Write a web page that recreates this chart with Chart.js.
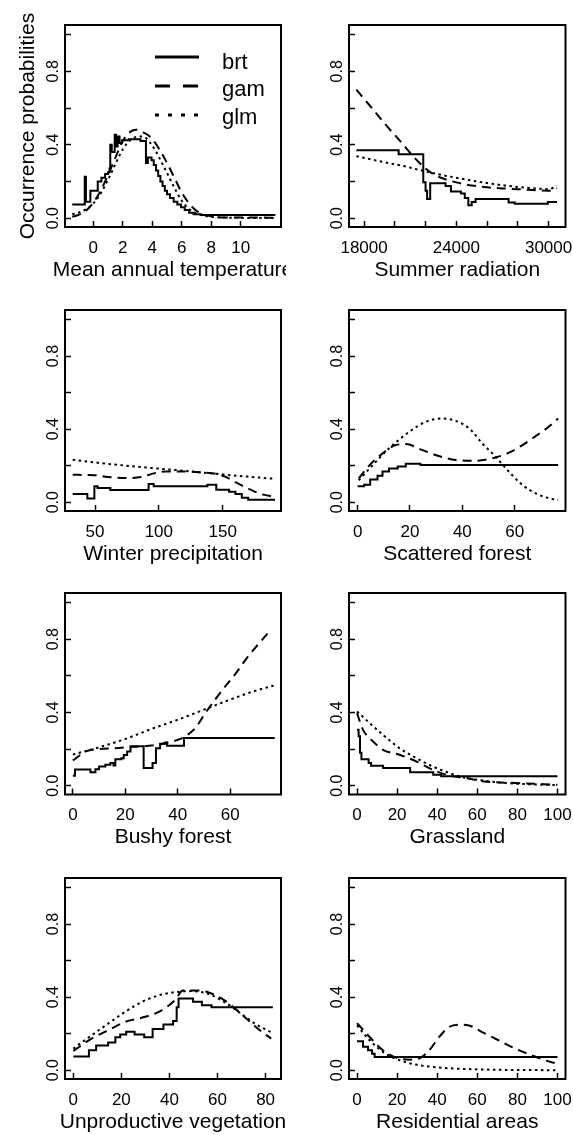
<!DOCTYPE html>
<html>
<head>
<meta charset="utf-8">
<title>Occurrence probability response curves</title>
<script src="https://cdn.jsdelivr.net/npm/chart.js@4.4.1/dist/chart.umd.min.js"></script>
<style>
  html, body { margin: 0; padding: 0; background: #fff; }
  #sheet { position: relative; width: 573px; height: 1135px; overflow: hidden; }
  #sheet canvas { position: absolute; }
</style>
</head>
<body>
<div id="sheet"></div>
<script>
// ---- response curves, read as [x, probability] ----
// brt rows are step points: each value holds until the next x.

// Mean annual temperature
const tempBrt = [[-1.43, 0.075], [-0.58, 0.225], [-0.5, 0.09], [-0.2, 0.15], [0.3, 0.2], [0.55, 0.22],
  [0.8, 0.24], [1.0, 0.25], [1.1, 0.27], [1.15, 0.40], [1.25, 0.36], [1.45, 0.455], [1.55, 0.39],
  [1.65, 0.445], [1.78, 0.41], [1.95, 0.425], [2.4, 0.43], [3.2, 0.42], [3.57, 0.30], [3.7, 0.33],
  [3.95, 0.315], [4.1, 0.29], [4.25, 0.26], [4.4, 0.23], [4.55, 0.20], [4.7, 0.175], [4.85, 0.15],
  [5.0, 0.13], [5.2, 0.11], [5.45, 0.09], [5.7, 0.075], [5.95, 0.06], [6.2, 0.045], [6.5, 0.03],
  [6.8, 0.022], [7.3, 0.018], [12.35, 0.018]];
const tempGam = [[-1.43, 0.008], [-1.0, 0.018], [-0.5, 0.04], [0, 0.085], [0.5, 0.15], [1.0, 0.235],
  [1.5, 0.33], [2.0, 0.42], [2.5, 0.47], [2.9, 0.482], [3.3, 0.47], [3.75, 0.45], [4.2, 0.41],
  [4.66, 0.35], [5.1, 0.285], [5.5, 0.22], [6.0, 0.14], [6.5, 0.08], [7.0, 0.04], [7.5, 0.02],
  [8.0, 0.01], [9.0, 0.004], [12.35, 0.003]];
const tempGlm = [[-1.43, 0.022], [-1.0, 0.03], [-0.5, 0.048], [0, 0.08], [0.5, 0.135], [1.0, 0.21],
  [1.5, 0.295], [2.0, 0.375], [2.5, 0.425], [3.1, 0.445], [3.5, 0.44], [3.86, 0.41], [4.2, 0.37],
  [4.66, 0.3], [5.1, 0.23], [5.57, 0.155], [6.0, 0.095], [6.5, 0.05], [7.0, 0.025], [8.0, 0.008],
  [9.0, 0.003], [12.35, 0.001]];

// Summer radiation
const radBrt = [[17500, 0.37], [20250, 0.348], [21850, 0.196], [22000, 0.15], [22100, 0.105],
  [22300, 0.19], [23300, 0.175], [23650, 0.145], [24300, 0.135], [24550, 0.11], [24780, 0.07],
  [25000, 0.088], [25250, 0.105], [27400, 0.085], [27800, 0.078], [29950, 0.088], [30550, 0.088]];
const radGam = [[17500, 0.70], [18500, 0.6], [19500, 0.5], [20500, 0.405], [21000, 0.355],
  [21500, 0.31], [22000, 0.27], [22500, 0.24], [23000, 0.22], [24000, 0.195], [25000, 0.178],
  [26000, 0.168], [27000, 0.162], [28000, 0.158], [29000, 0.153], [30000, 0.15], [30550, 0.162]];
const radGlm = [[17500, 0.338], [19000, 0.31], [20500, 0.285], [22000, 0.255], [23500, 0.228],
  [25000, 0.205], [26500, 0.185], [28000, 0.17], [29500, 0.16], [30000, 0.158], [30550, 0.175]];

// Winter precipitation
const precBrt = [[32.5, 0.045], [44, 0.02], [49.5, 0.088], [52, 0.078], [62, 0.067], [92, 0.1],
  [96, 0.087], [138, 0.095], [145, 0.068], [155, 0.058], [160, 0.045], [165, 0.025], [170, 0.013],
  [191, 0.013]];
const precGam = [[32.5, 0.15], [50, 0.148], [60, 0.138], [75, 0.132], [88, 0.14], [96, 0.158],
  [105, 0.168], [120, 0.168], [135, 0.162], [145, 0.155], [152, 0.14], [160, 0.11], [170, 0.075],
  [180, 0.045], [191, 0.03]];
const precGlm = [[32.5, 0.232], [60, 0.21], [90, 0.19], [120, 0.172], [150, 0.152], [170, 0.14],
  [191, 0.128]];

// Scattered forest
const scatBrt = [[0, 0.088], [2.5, 0.095], [4.8, 0.125], [7.6, 0.145], [9.5, 0.168], [12, 0.185],
  [15.3, 0.195], [18.4, 0.21], [24, 0.204], [76.6, 0.204]];
const scatGam = [[0.4, 0.13], [4.4, 0.2], [9.5, 0.267], [14.6, 0.313], [18.4, 0.318], [24.8, 0.285],
  [31, 0.253], [37.5, 0.231], [45, 0.227], [52.7, 0.245], [57.8, 0.271], [63, 0.313], [68, 0.362],
  [73, 0.413], [76.6, 0.458]];
const scatGlm = [[0.4, 0.12], [7, 0.222], [12, 0.295], [19.7, 0.385], [26, 0.44], [32.4, 0.458],
  [37.5, 0.445], [42.6, 0.404], [47.6, 0.322], [52.7, 0.249], [57.8, 0.167], [62.9, 0.095],
  [68, 0.049], [73, 0.022], [76.6, 0.013]];

// Bushy forest
const bushBrt = [[0, 0.055], [0.8, 0.088], [6.7, 0.073], [8.6, 0.09], [10, 0.105], [12.4, 0.115],
  [14.3, 0.124], [15.5, 0.11], [16.2, 0.145], [18.5, 0.15], [19.4, 0.168], [20.7, 0.187], [22, 0.215],
  [27, 0.096], [30.4, 0.124], [31.7, 0.205], [33.3, 0.229], [35.2, 0.236], [35.9, 0.218],
  [42.4, 0.26], [77, 0.26]];
const bushGam = [[0, 0.138], [5, 0.187], [10, 0.2], [16, 0.205], [23, 0.213], [29, 0.218], [35, 0.232],
  [40, 0.25], [44, 0.28], [47, 0.32], [50, 0.385], [54, 0.465], [58, 0.54], [62, 0.61], [66, 0.69],
  [70, 0.76], [75.5, 0.85]];
const bushGlm = [[0, 0.17], [10, 0.21], [20, 0.255], [30, 0.31], [40, 0.36], [50, 0.415], [60, 0.47],
  [70, 0.52], [77, 0.548]];

// Grassland
const grassBrt = [[0, 0.305], [0.8, 0.27], [1.5, 0.18], [2.2, 0.145], [5.8, 0.124], [7, 0.109],
  [13, 0.096], [26.5, 0.073], [38, 0.06], [42, 0.052], [100, 0.052]];
const grassGam = [[0, 0.396], [3, 0.305], [8, 0.242], [12.9, 0.196], [21.2, 0.169], [29.5, 0.133],
  [37.8, 0.087], [46.1, 0.055], [54.4, 0.042], [62.7, 0.024], [71, 0.018], [79.3, 0.015],
  [100, 0.005]];
const grassGlm = [[0, 0.405], [6.3, 0.342], [12.9, 0.278], [21.2, 0.205], [29.5, 0.151],
  [37.8, 0.105], [46.1, 0.069], [54.4, 0.042], [62.7, 0.029], [71, 0.018], [79.3, 0.011],
  [100, 0.003]];

// Unproductive vegetation
const unprodBrt = [[0, 0.075], [6.5, 0.11], [9.5, 0.135], [14.5, 0.152], [17.5, 0.18], [19.5, 0.195],
  [22, 0.21], [25.5, 0.195], [29.5, 0.18], [33, 0.225], [37.5, 0.25], [41.5, 0.27], [43, 0.345],
  [43.8, 0.392], [49.8, 0.375], [53.5, 0.355], [57.5, 0.345], [83, 0.345]];
const unprodGam = [[0, 0.105], [7.6, 0.173], [14.5, 0.218], [21.4, 0.264], [28.4, 0.287],
  [35.3, 0.318], [42.2, 0.382], [45.6, 0.436], [51.9, 0.436], [56, 0.427], [62.9, 0.382],
  [69.8, 0.309], [76.8, 0.227], [82.3, 0.173]];
const unprodGlm = [[0, 0.118], [7.6, 0.191], [14.5, 0.255], [21.4, 0.318], [28.4, 0.373],
  [35.3, 0.409], [42.2, 0.427], [49.1, 0.433], [56, 0.418], [62.9, 0.373], [69.8, 0.309],
  [76.8, 0.245], [83, 0.204]];

// Residential areas
const resBrt = [[0, 0.158], [3, 0.128], [5.5, 0.11], [7.5, 0.09], [8.8, 0.073], [100, 0.073]];
const resGam = [[0, 0.258], [6.3, 0.182], [12.9, 0.109], [19.5, 0.069], [26, 0.058], [31, 0.064],
  [36, 0.109], [41, 0.182], [45.9, 0.236], [50.8, 0.249], [55.8, 0.245], [62.4, 0.209],
  [70.6, 0.164], [78.9, 0.118], [87.1, 0.082], [93.7, 0.055], [99.5, 0.036]];
const resGlm = [[0, 0.245], [6.3, 0.164], [12.9, 0.1], [21.1, 0.055], [29.4, 0.031], [37.6, 0.018],
  [45.9, 0.011], [62.4, 0.004], [99.5, 0.0]];

// ---- tick values and labels ----
const yTicks = [0, 0.2, 0.4, 0.6, 0.8, 1];
const yTickLabels = ['0.0', '', '0.4', '', '0.8', ''];
const tempTicks = [0, 2, 4, 6, 8, 10];
const tempTickLabels = ['0', '2', '4', '6', '8', '10'];
const radTicks = [18000, 20000, 22000, 24000, 26000, 28000, 30000];
const radTickLabels = ['18000', '', '', '24000', '', '', '30000'];
const precTicks = [50, 100, 150];
const precTickLabels = ['50', '100', '150'];
const pctTicks = [0, 20, 40, 60, 80, 100];
const pctTickLabels = ['0', '20', '40', '60', '80', '100'];

// ---- panel layout (R-style 4 x 2 grid) ----
const INK = '#000';
const FONT = '"Liberation Sans", Arial, Helvetica, sans-serif';
const Y_AXIS_W = 50;
const X_AXIS_H = 50;

const cols = [
  { left: 0, width: 286, boxLeft: 65, boxRight: 281 },
  { left: 286, width: 287, boxLeft: 349, boxRight: 565.5 }
];
const rows = [
  { top: 0, height: 283, boxTop: 25, boxBottom: 227 },
  { top: 283, height: 283, boxTop: 310, boxBottom: 511 },
  { top: 566, height: 283, boxTop: 593, boxBottom: 794.5 },
  { top: 849, height: 286, boxTop: 878, boxBottom: 1079 }
];

// line types: brt solid, gam dashed, glm dotted
const styles = {
  brt: { dash: [], keyDash: [], stepped: 'before' },
  gam: { dash: [9, 6], keyDash: [15, 13] },
  glm: { dash: [2.5, 3.5], keyDash: [4, 9] }
};

const panels = [
  { row: 0, col: 0, title: 'Mean annual temperature', range: [-1.92, 12.73], ticks: tempTicks, labels: tempTickLabels,
    brt: tempBrt, gam: tempGam, glm: tempGlm, key: true, yTitle: 'Occurrence probabilities' },
  { row: 0, col: 1, title: 'Summer radiation', range: [17020, 31100], ticks: radTicks, labels: radTickLabels,
    brt: radBrt, gam: radGam, glm: radGlm },
  { row: 1, col: 0, title: 'Winter precipitation', range: [26.5, 195.7], ticks: precTicks, labels: precTickLabels,
    brt: precBrt, gam: precGam, glm: precGlm },
  { row: 1, col: 1, title: 'Scattered forest', range: [-3.3, 79.4], ticks: pctTicks.slice(0, 4), labels: pctTickLabels,
    brt: scatBrt, gam: scatGam, glm: scatGlm },
  { row: 2, col: 0, title: 'Bushy forest', range: [-3.0, 79.4], ticks: pctTicks.slice(0, 4), labels: pctTickLabels,
    brt: bushBrt, gam: bushGam, glm: bushGlm },
  { row: 2, col: 1, title: 'Grassland', range: [-4, 104], ticks: pctTicks, labels: pctTickLabels,
    brt: grassBrt, gam: grassGam, glm: grassGlm },
  { row: 3, col: 0, title: 'Unproductive vegetation', range: [-3.45, 86.4], ticks: pctTicks.slice(0, 5), labels: pctTickLabels,
    brt: unprodBrt, gam: unprodGam, glm: unprodGlm },
  { row: 3, col: 1, title: 'Residential areas', range: [-4, 104], ticks: pctTicks, labels: pctTickLabels,
    brt: resBrt, gam: resGam, glm: resGlm }
];

// frame, axis titles and the inset key, drawn the way base R graphics does
const panelDecor = {
  id: 'panelDecor',
  afterDraw(chart, args, opts) {
    const { ctx, chartArea: a } = chart;
    ctx.save();
    ctx.setLineDash([]);
    ctx.strokeStyle = INK;
    ctx.lineWidth = 2;
    ctx.strokeRect(a.left, a.top, a.right - a.left, a.bottom - a.top);

    ctx.fillStyle = INK;
    ctx.font = '21px ' + FONT;
    ctx.textAlign = 'center';
    ctx.textBaseline = 'middle';
    ctx.fillText(opts.xTitle, (a.left + a.right) / 2, a.bottom + 43);

    if (opts.yTitle) {
      ctx.save();
      ctx.translate(a.left - 37, (a.top + a.bottom) / 2);
      ctx.rotate(-Math.PI / 2);
      ctx.fillText(opts.yTitle, 0, 0);
      ctx.restore();
    }

    if (opts.key) {
      ctx.font = '22px ' + FONT;
      ctx.textAlign = 'left';
      ctx.textBaseline = 'alphabetic';
      chart.data.datasets.forEach((ds, i) => {
        const ly = a.top + 32 + 29 * i;
        ctx.beginPath();
        ctx.setLineDash(styles[ds.label].keyDash);
        ctx.lineWidth = 3;
        ctx.moveTo(a.left + 90, ly);
        ctx.lineTo(a.left + 134, ly);
        ctx.stroke();
        ctx.setLineDash([]);
        ctx.fillText(ds.label, a.left + 157, a.top + 43.5 + 27.5 * i);
      });
    }
    ctx.restore();
  }
};

function series(label, pts) {
  const s = styles[label];
  return {
    label: label,
    data: pts.map(([x, y]) => ({ x: x, y: y })),
    borderColor: INK,
    borderWidth: 2,
    borderDash: s.dash,
    stepped: s.stepped || false,
    cubicInterpolationMode: s.stepped ? 'default' : 'monotone',
    pointRadius: 0,
    fill: false
  };
}

const tickGrid = { drawOnChartArea: false, tickLength: -6, tickWidth: 1.5, tickColor: INK };

const sheet = document.getElementById('sheet');

panels.forEach(p => {
  const c = cols[p.col];
  const r = rows[p.row];
  const canvas = document.createElement('canvas');
  canvas.width = c.width;
  canvas.height = r.height;
  canvas.style.left = c.left + 'px';
  canvas.style.top = r.top + 'px';
  sheet.appendChild(canvas);

  new Chart(canvas, {
    type: 'line',
    data: {
      datasets: [series('brt', p.brt), series('gam', p.gam), series('glm', p.glm)]
    },
    options: {
      responsive: false,
      animation: false,
      devicePixelRatio: 1,
      events: [],
      layout: {
        padding: {
          left: c.boxLeft - c.left - Y_AXIS_W,
          right: c.left + c.width - c.boxRight,
          top: r.boxTop - r.top,
          bottom: r.top + r.height - r.boxBottom - X_AXIS_H
        }
      },
      scales: {
        x: {
          type: 'linear',
          min: p.range[0],
          max: p.range[1],
          afterBuildTicks: s => { s.ticks = p.ticks.map(v => ({ value: v })); },
          afterFit: s => { s.height = X_AXIS_H; s.paddingLeft = 0; s.paddingRight = 0; },
          border: { display: false },
          grid: tickGrid,
          ticks: {
            autoSkip: false,
            minRotation: 0,
            maxRotation: 0,
            padding: 17,
            color: INK,
            font: { family: FONT, size: 17 },
            callback: (v, i) => p.labels[i]
          }
        },
        y: {
          type: 'linear',
          min: -0.048,
          max: 1.052,
          afterBuildTicks: s => { s.ticks = yTicks.map(v => ({ value: v })); },
          afterFit: s => { s.width = Y_AXIS_W; s.paddingTop = 0; s.paddingBottom = 0; },
          border: { display: false },
          grid: tickGrid,
          ticks: {
            autoSkip: false,
            minRotation: 90,
            maxRotation: 90,
            crossAlign: 'center',
            padding: 5.9,
            color: INK,
            font: { family: FONT, size: 16 },
            callback: (v, i) => yTickLabels[i]
          }
        }
      },
      plugins: {
        legend: { display: false },
        tooltip: { enabled: false },
        panelDecor: { xTitle: p.title, yTitle: p.yTitle || null, key: !!p.key }
      }
    },
    plugins: [panelDecor]
  });
});
</script>
</body>
</html>
